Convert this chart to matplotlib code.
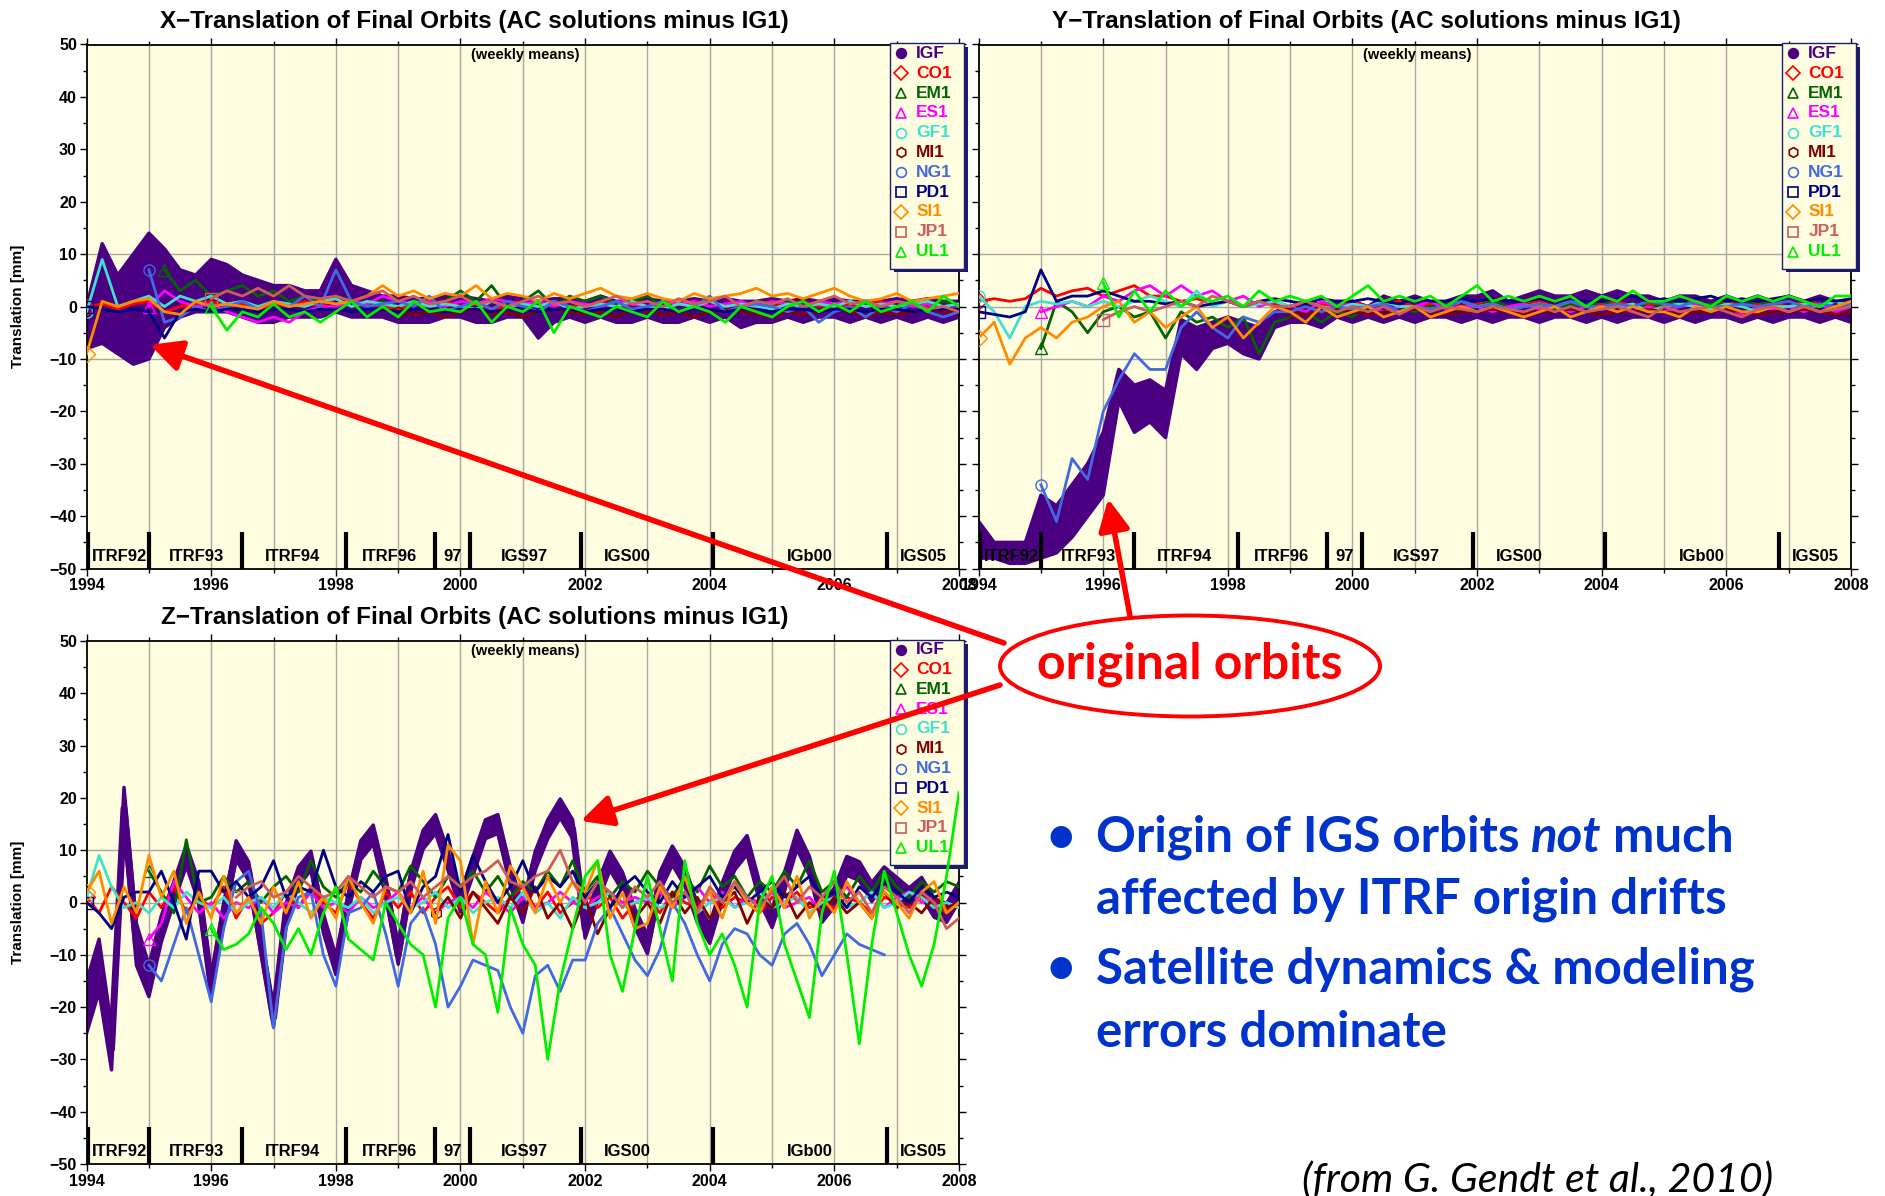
import numpy as np
import matplotlib
matplotlib.use("Agg")
import matplotlib.pyplot as plt
from matplotlib.patches import Ellipse, Rectangle, ConnectionPatch
from matplotlib.ticker import MultipleLocator

nan = np.nan

# epochs: quarterly for the X and Y panels, every 0.2 yr for Z
t_q = 1994.0 + 0.25 * np.arange(57)
t_z = 1994.0 + 0.2 * np.arange(71)

ac_names = ['IGF', 'CO1', 'EM1', 'ES1', 'GF1', 'MI1', 'NG1', 'PD1', 'SI1', 'JP1', 'UL1']
ac_colors = ['#4b0082', '#ff0000', '#006400', '#ff00ff', '#40e0d0', '#800000',
             '#4169e1', '#000080', '#ff8c00', '#cd5c5c', '#00ee00']
ac_markers = ['o', 'D', '^', '^', 'o', 'h', 'o', 's', 'D', 's', '^']

frame_names = ['ITRF92', 'ITRF93', 'ITRF94', 'ITRF96', '97', 'IGS97', 'IGS00', 'IGb00', 'IGS05']
frame_start = [1994.03, 1995.0, 1996.5, 1998.17, 1999.59, 2000.16, 2001.93, 2004.05, 2006.85]
frame_label_x = [1994.52, 1995.76, 1997.3, 1998.86, 1999.88, 2001.02, 2002.68, 2005.6, 2007.43]

# ---------------- X translation ----------------
igf_x_lo = [-8, -7, -9, -11, -10, -4, -2, -1, -1, -1, -2, -3, -3, -2, -2, -2, -1, -2, -2, -2,
            -3, -3, -3, -2, -2, -3, -3, -2, -2, -6, -3, -2, -3, -2, -3, -3, -2, -3, -3, -2,
            -3, -2, -4, -3, -3, -2, -3, -2, -2, -3, -2, -3, -2, -3, -2, -3, -2]
igf_x_hi = [0, 12, 6, 10, 14, 11, 7, 6, 9, 8, 6, 5, 4, 4, 3, 3, 9, 4, 3, 2,
            2, 1.5, 1.5, 2, 2, 1.5, 1, 2, 1.5, 1, 1.5, 1.5, 1, 2, 1, 1, 1.5, 1, 1, 1.5,
            1, 1.5, 1, 1, 1.5, 1, 1.5, 1, 1.5, 1, 1, 1, 1.5, 1, 1.5, 1, 1]
co1_x = [0, 0.5, -0.5, 0.5, 1, -1, 0, 0.5, 1, 0, 0.5, -0.5, 0.5, 0, 1, 0, 1.5, 0, 0.5, 0,
         -0.5, 0.5, 0, 1, 0, 0.5, -0.5, 0, 0.5, 0, 1, 0, 0, 1, 0, 0.5, 0, -0.5, 0.5, 0,
         1, 0, 0.5, 0, 0, 0.5, 1, 0, 0.5, 0, 0.5, 1, 0, 0.5, 0, 1, 0.5]
em1_x = [nan] * 5 + [7, 3, 5, 2, 3, 4, 2, 3, 1, 2, 1, 2, 1, 0.5, 1,
                     0, 1, 0.5, 1, 3, 1, 4, 0, 1, 3, 0, 2, 1, 2, 0.5, 1, 2, 0, 1, 0.5,
                     1, 0, 1, 0, 0.5, 1, 0, 1, 0, 1, 0.5, 0, 1, 0, 0.5, 1, 0.5]
es1_x = [nan] * 4 + [0, 3, 1, 0, 0.5, -1, -2, -3, -2, -3, -1, 0, 0, 1, 0.5, 2,
                     1, 0.5, 1, 0, 1, 0.5, 1.5, 1, 0.5, 1, 0, 1, 0.5, 0, 1, 0.5, 0, 1, 0.5, 1,
                     0, 0.5, 1, 0, 1, 0.5, 0, 1, 0.5, 1, 0, 0.5, 1, 0, 0.5, -1, 0]
gf1_x = [-1, 9, 0, 1, 2, 0, 2, 1, 2, 0.5, 1, 0, 1, 0.5, 0, 1, 1.5, 0, 1, 0.5,
         0, 1, 0, 0.5, 0, -0.5, 1, 0, 0.5, 0, 1, -0.5, 0, 0.5, 0, 1, 0, -0.5, 0.5, 0,
         1, 0, 0.5, 0, -0.5, 0.5, 0, 0.5, 0, 1, 0, 0.5, 0, 0.5, 1, 0, 0.5]
mi1_x = [nan] * 20 + [-1, -1.5, -1, -2, -1, -0.5, -1.5, -1, -2, -1, -0.5, -1, -1.5, -1, -2, -0.5,
                      -1, -1.5, -1, -2, -1, -0.5, -1, -1.5, -2, -1, -1.5, -1, -0.5, -1, -2, -1,
                      -1.5, -1, -0.5, -1, -1]
ng1_x = [nan] * 4 + [7, -3, -2, 0, -1, 0, 1, -0.5, 1, 0, 2, 0, 7, 1, 0, 0.5,
                     1, 0, 2, -1, 0, 1, -0.5, 1, 0, -1, 1, 0, -1, 0, 1, -0.5, 0, 1, -1, 0,
                     2, -1, 0, 0.5, 0, -1, 0, -3, -1, 0, -2, 0, -1, 0.5, -1, -2, -1]
pd1_x = [0, -0.5, -1, -0.5, -1, -6, -1, -0.5, -1, -0.5, -0.5, -1, -0.5, -0.5, -1, -0.5, -0.5, -1, -0.5, -0.5,
         -1, -0.5, -0.5, -1, -0.5, -0.5, -1, -0.5, -0.5, -1, -0.5, -0.5, -1, -0.5, -0.5, -1, -0.5, -0.5, -1, -0.5,
         -0.5, -1, -0.5, -0.5, -1, -0.5, -0.5, -1, -0.5, -0.5, -1, -0.5, -0.5, -1, -0.5, -0.5, -0.5]
si1_x = [-9, 1, 0, 1, 1.5, -1, -1.5, 1, 0, 0.5, 0, -0.5, 1, 0, 0.5, 1, 0.5, 1, 2, 4,
         2, 3, 1.5, 2.5, 2, 4, 1.5, 2.5, 2, 1, 2.5, 1.5, 2.5, 3.5, 2, 1.5, 2.5, 1.5, 1, 2.5,
         1.5, 2, 2.5, 3.5, 2, 2.5, 1.5, 2.5, 3.5, 2, 1, 1.5, 2.5, 1, 1.5, 2, 2.5]
jp1_x = [nan] * 8 + [1.5, 3, 2, 3.5, 2, 4, 2, 1.5, 2, 1, 2, 3,
                     1, 2, 0.5, 1, 2, 0.5, 1, 0, 1, 2, 0.5, 1, 0, 1, 2, 0.5, 1, 0, 1.5, 0.5,
                     1, 2, 0, 1, 0.5, 1.5, 0, 1, 2, 0.5, 1, 0, 1, 0.5, -0.5, 0, -1]
ul1_x = [nan] * 8 + [0, -4.5, -1, -2, 0.5, -2, -1, -3, -1, 1, -2, 0,
                     -2, 1, -1, -0.5, -1, 1, -3, 0, -1, 1, -5, 0, -1, -2, 0, -1, -2, 1, -1, 0,
                     -1, -3, 0, -1, -2, 0, 1, -1, 0.5, -1, 1, -1, 0, 1, -1, 2, 0]

# ---------------- Y translation ----------------
igf_y_lo = [-48, -48, -49, -49, -48, -47, -44, -40, -36, -18, -24, -22, -25, -9, -12, -8, -7, -9, -10, -4,
            -3, -3, -4, -2, -3, -2, -3, -2, -3, -2, -2, -3, -2, -3, -2, -2, -3, -2, -2, -3,
            -2, -3, -2, -2, -3, -2, -3, -2, -2, -3, -2, -3, -2, -2, -3, -2, -3]
igf_y_hi = [-41, -45, -45, -45, -36, -38, -34, -30, -24, -12, -15, -14, -16, -2.5, -4, -3, -2, -3, -4, -1,
            0, 1, 0, 1, 1, 0, 2, 1, 2, 1, 1, 2, 2, 3, 1, 2, 3, 2, 2, 3,
            2, 3, 2, 2, 1, 2, 2, 1, 2, 1, 2, 1, 2, 1, 2, 1, 1]
co1_y = [1, 1.5, 1, 1.5, 3.5, 2, 3, 3.5, 2, 3, 4, 2, 2, 1, 1.5, 0.5, 1, 0, 1, 0.5,
         0, 1, 0.5, 0, 1, 0, 0.5, 1, 0, 0.5, 1, 0, 0.5, 1, 0, 0.5, 1, 0, 0.5, 0,
         0.5, 1, 0, 0.5, 0, 0.5, 1, 0, 1, 0, 0.5, 0.5, 0, 1, 0.5, 0, 0.5]
em1_y = [nan] * 4 + [-8, 1, -1, -5, -1, 0, -2, -1, -6, -1, -3, -2, -4, -2, -9, -3,
                     -2, -1, -3, -1, -2, 0, -1, 0, -1, 0, 0.5, -1, 0, 1, 0, 0.5, 0, -0.5, 0.5, 0,
                     1, 0, 0.5, 0, 0, 1, 0, 0.5, 0.5, 0, 1, 0, 0, 0.5, 0, 1, 0.5]
es1_y = [nan] * 4 + [-1, 0, 1, 0, 2, 1, 3, 4, 2, 4, 2, 3, 1, 2, 0, 1,
                     0, -1, 1, 0, 0.5, 0, -1, 0, 0, 1, -0.5, 0, 0, -1, 0, 0.5, -0.5, 0, -1, 0,
                     0, 0.5, -1, 0, -1, 0, 0.5, -1, 0, -1.5, 0, -0.5, 0, -1, 0.5, -1, 0]
gf1_y = [2, -1, -6, 0, 1, 0.5, 1, 0, 1, 0, 1, 2, 1, 0, 3, 0, 1, 0, 0.5, 1,
         0, 1, 0, -0.5, 0.5, 0, 1, 0, 0, -0.5, 0, 1, 0, 0.5, -0.5, 0, 0.5, 0, 1, 0,
         -0.5, 0, 0.5, -1, 0, 0.5, 0, -0.5, 0.5, 0, -1, 0, 0, 0.5, 0, 1, 0]
mi1_y = [nan] * 20 + [-1, -1.5, -1, -0.5, -1, -1.5, -1, -1, -0.5, -1, -1.5, -1, -1, -0.5, -1, -1.5,
                      -1, -1, -0.5, -1, -1.5, -1, -1, -0.5, -1, -1.5, -1, -1, -0.5, -1, -1.5, -1,
                      -1, -0.5, -1, -1.5, -1]
ng1_y = [nan] * 4 + [-34, -41, -29, -33, -20, -14, -9, -12, -12, -4, -1, -4, -6, -2, -3, -1,
                     -1, 0, -1, 0, -0.5, 0, 0.5, -1, 0, -0.5, 0, 1, 0, 0.5, -0.5, 0, 0.5, 0, 1, 0,
                     0, 0.5, 0, 1, 0.5, 0, 1, 0, 0, 0.5, 0, 0.5, 1, 0, 0.5, 0, 0.5]
pd1_y = [-1, -1.5, -2, -1, 7, 1, 2, 2, 3, 2, 1, 1, 0.5, 1, 0, 0.5, 1, 0, 1, 1.5,
         1, 0.5, 1.5, 1, 1, 1.5, 1, 0.5, 1.5, 1, 1, 1.5, 1, 1.5, 1, 1, 1.5, 1, 1.5, 1,
         1, 1.5, 2, 1, 1.5, 1, 1.5, 2, 1, 1.5, 1, 1.5, 2, 1, 1.5, 1, 1.5]
si1_y = [-6, -3, -11, -6, -4, -6, -3, -2, 0, 1, -3, -1, -4, -2, 0, -4, -2, -6, -3, 0,
         -1, -3, 0, -2, -1, 0, -2, -1, 0, -2, -1, 0, -1, 0, -1, -2, -1, 0, -2, -1,
         0, -1, 0, -1, -1, -2, 0, -1, 0, -1, -1, 0, -1, 0, -1, 0, 1]
jp1_y = [nan] * 8 + [-2.5, -1, 0, -1, 0, 1, 0, 2, 1, 0, 1, 0,
                     0, 1, 0, -1, 0, -1, 0, -1.5, 0, -1, 0, -0.5, -1, 0, -0.5, -1, 0, -1, 0, -1,
                     -0.5, 0, -1, -2, 0, -1, -0.5, 0, -1, -2, -0.5, 0, -1, 0, -1, -0.5, 0]
ul1_y = [nan] * 8 + [4.5, -2, 3, -1, 3, 0, 2, 1, 2, 0, 3, 1,
                     2, 1, 2, 0, 2, 4, 1, 2, 1, 2, 0, 2, 4, 1, 2, 1, 2, 1, 2, 0,
                     2, 1, 3, 1, 1, 2, 1, 0, 2, 1, 2, 1, 2, 1, 0, 2, 2]

# ---------------- Z translation ----------------
igf_z = [-20, -12, -28, 18, -8, -15, -5, 2, 9, 2, -16, -2, 10, 6, -8, -22, -2, 5, 8, -4, -12, 0, 10, 13, 3,
         -10, 4, 12, 15, 8, 0, 7, 14, 15, 5, -2, 8, 14, 18, 14, -5, 2, 8, 4, -3, -8, 4, 9, 5, -2,
         -6, 2, 8, 11, 2, -3, 4, 12, 7, -2, 1, 7, 6, 2, 5, 3, 1, 3, -1, -2, 2]
igf_z_half = [5, 5, 4, 4, 4, 3, 2.5, 2, 2, 2] + [1.8] * 61
co1_z = [1, -2, 3, 0, -3, 2, -1, 3, -2, 1, -1, 3, -3, 1, -4, -2, 2, -1, 3, 0, -2, 4, 0, -3, 2,
         -1, 2, -2, 1, 3, -1, 2, 0, -2, 1, 3, -1, 2, -2, 0, 2, -1, 1, -3, 0, 1, -2, 2, 0, -1,
         2, -1, 1, 0, -2, 1, 0, 2, -1, 0, -1, 1, 0, -2, 1, 0, -1, 1, 0, -2, 0]
em1_z = [nan] * 5 + [6, 2, -2, 12, 0, 1, 5, 2, 4, 0, 3, 5, 2, 8, 3, 1, 4, 2, 6, 3,
                     2, 7, 4, 1, 5, 3, 6, 2, 5, 1, 4, 2, 6, 3, 8, 2, 5, 1, 4, 2, 6, 3, 1, 5, 2,
                     7, 3, 5, 1, 4, 2, 6, 3, 8, 2, 4, 1, 5, 2, 6, 3, 1, 4, 2, 4, 3]
es1_z = [nan] * 5 + [-7, -4, 4, 1, -2, 0, -3, 0, -1, 1, -2, 0, -1, 2, -1, 0, -2, 1, -1, 0,
                     2, -1, 1, -2, 0, 1, -1, 2, 0, -2, 1, -1, 0, 2, 0, -1, 1, 2, 0, 1, 0, 2, -1, 1, 3,
                     0, 2, -1, 1, 0, 2, -1, 0, 1, -2, 1, 3, 0, 2, -1, 1, 2, 0, 1, -1, 0]
gf1_z = [1, 9, 3, -1, 0, -2, 1, -1, 2, 0, -1, 1, -2, 0, 1, -1, 2, 0, -2, 1, 0, -1, 1, -2, 0,
         1, -1, 0, 2, -1, 1, -2, 0, 1, -1, 2, -2, 0, -3, 1, -1, 0, 2, -1, 0, 1, -1, 0, 2, -2,
         0, 1, -1, 0, 2, -1, 0, 1, -2, 0, 1, -1, 0, 2, -1, 0, 2, 1, -1, 0, -1]
mi1_z = [nan] * 28 + [-2, 1, -3, 2, -1, -4, 1, -2, 3, -3, 0, -5, 1, -6, -1, 2, -3, 0, -4, 2, -2, 1,
                      -3, 0, 2, -4, 1, -1, 2, -3, 0, -2, 1, -2, 0, -3, 2, -1, 0, -2, 1, -1, 0]
ng1_z = [nan] * 5 + [-12, -15, -8, -1, -10, -19, -5, 4, 6, -2, -24, -5, 1, 2, -10, -16, -2, -1, 2, -6,
                     -16, -4, -1, -8, -20, -16, -11, -12, -13, -20, -25, -14, -12, -17, -11,
                     -11, -4, -1, -6, -11, -14, -9, 0, -4, -10, -15, -8, -5, -6, -10,
                     -12, -6, -4, -8, -14, -10, -6, -8, -9, -10] + [nan] * 6
pd1_z = [0, -2, -5, 1, 2, 2, 6, 0, -7, 6, 6, 2, 4, 1, 3, 8, 1, 3, 2, 10, 3, 1, 4, 2, 5,
         6, -2, 3, 5, 13, 2, 9, 4, 0, 3, 8, 2, 5, 3, 6, 1, 4, -1, 3, 5, 2, 0, 4, 1, 3,
         5, 1, 3, 0, 2, 4, 1, 3, 5, 1, 2, -1, 3, 1, 4, 2, 0, 3, 1, 2, 1]
si1_z = [2, 6, -4, 3, -2, 9, 1, 6, -4, 2, -3, 5, -2, 1, -4, 3, -2, 4, -3, 1, -3, 5, 0, -4, 3,
         2, -2, 6, -4, 11, 8, -8, 4, -2, 7, 3, -2, 5, 0, 4, 2, 8, -3, 2, -5, -4, 3, -1, 5, -2,
         2, -3, 4, 0, -2, 3, -1, 5, -3, 1, -2, 4, 0, -3, 2, 0, -3, 2, 4, -2, 0]
jp1_z = [nan] * 12 + [1, 3, 4, 1, 2, 5, 3, 1, 2, 5, 3, 1, 3, 2, 4, 1, 3, 5, 3, 5, 6, 8, 4, 3, 5, 6, 10, 4,
                      0, 4, 2, -1, 3, 1, 4, 0, 2, -2, 3, 0, 4, 1, -1, 2, 5, 0, 3, 1, 4, 0, 2, -2, 3,
                      1, -2, 2, 0, -5, -3]
ul1_z = [nan] * 10 + [-5, -9, -8, -6, -1, -4, -9, -5, -10, -2, 3, -7, -9, -11, 0,
                      -4, -8, -10, -20, -3, 1, -8, -10, -21, -1, -8, -12, -30, -15, -5, 5, 8, -10, -17, -5,
                      5, -5, -15, 8, -4, -10, -6, -12, -20, 0, 5, -8, -15, -22, -2, 6, -10, -27, -8, 6,
                      -2, -10, -16, -8, 5, 21]

W, H = 1885, 1196
bg = '#fffddf'
grid_c = '#a8a8a0'

plt.rcParams['font.family'] = ['Liberation Sans', 'DejaVu Sans']
plt.rcParams['font.weight'] = 'bold'


def draw_legend(ax):
    x0, x1, y0, y1 = 0.921, 1.006, 0.572, 1.002
    shadow = Rectangle((x0 + 0.004, y0 - 0.007), x1 - x0, y1 - y0, transform=ax.transAxes,
                       facecolor='#1c1c6c', edgecolor='none', clip_on=False, zorder=7)
    box = Rectangle((x0, y0), x1 - x0, y1 - y0, transform=ax.transAxes, facecolor=bg,
                    edgecolor='#1c1c6c', lw=1, clip_on=False, zorder=7.5)
    ax.add_patch(shadow)
    ax.add_patch(box)
    for i, name in enumerate(ac_names):
        yy = 0.983 - i * 0.0378
        filled = ac_colors[i] if name == 'IGF' else 'none'
        ax.plot([0.934], [yy], marker=ac_markers[i], mfc=filled, mec=ac_colors[i], ms=7, mew=1.2,
                transform=ax.transAxes, clip_on=False, zorder=8, ls='none')
        ax.text(0.951, yy, name, color=ac_colors[i], fontsize=12.5, fontweight='bold',
                va='center', ha='left', transform=ax.transAxes, zorder=8)


def draw_panel(ax, t, igf_lo, igf_hi, others, title, left_labels):
    ax.set_facecolor(bg)
    ax.set_xlim(1994, 2008)
    ax.set_ylim(-50, 50)
    for yr in range(1995, 2008):
        ax.axvline(yr, color=grid_c, lw=1, zorder=1)
    for v in (-10, 0, 10):
        ax.axhline(v, color=grid_c, lw=1, zorder=1)

    lo = np.array(igf_lo, float)
    hi = np.array(igf_hi, float)
    ax.fill_between(t, lo, hi, color=ac_colors[0], lw=0, zorder=2)
    ax.plot(t, lo, color=ac_colors[0], lw=2.5, zorder=2)
    ax.plot(t, hi, color=ac_colors[0], lw=2.5, zorder=2)
    ax.plot(t, (lo + hi) / 2, color=ac_colors[0], lw=5, zorder=2)

    for k, vals in enumerate(others, start=1):
        v = np.array(vals, float)
        z = 9 if ac_names[k] == 'UL1' else 3
        ax.plot(t, v, color=ac_colors[k], lw=2, zorder=z)
        i0 = np.flatnonzero(~np.isnan(v))[0]
        ax.plot(t[i0], v[i0], marker=ac_markers[k], mfc='none', mec=ac_colors[k],
                ms=8, mew=1, zorder=z, ls='none')

    ax.vlines(frame_start, -50, -43, colors='k', lw=3, zorder=6)
    for lab, xl in zip(frame_names, frame_label_x):
        ax.text(xl, -47.6, lab, ha='center', va='center', fontsize=12, fontweight='bold', zorder=6)

    ax.xaxis.set_major_locator(MultipleLocator(2))
    ax.xaxis.set_minor_locator(MultipleLocator(1))
    ax.yaxis.set_major_locator(MultipleLocator(10))
    ax.yaxis.set_minor_locator(MultipleLocator(5))
    ax.tick_params(which='both', direction='out', top=True, right=True, width=1,
                   labelsize=11.5, labelleft=left_labels, pad=2)
    ax.tick_params(which='major', length=5)
    ax.tick_params(which='minor', length=3)
    for lab in ax.get_xticklabels() + ax.get_yticklabels():
        lab.set_fontweight('bold')
    for s in ax.spines.values():
        s.set_linewidth(1.3)

    ax.text(0.445, 1.044, title, transform=ax.transAxes, ha='center', va='center',
            fontsize=17.5, fontweight='bold')
    ax.text(0.5025, 0.98, '(weekly means)', transform=ax.transAxes, ha='center', va='center',
            fontsize=10.5, fontweight='bold', zorder=6)
    if left_labels:
        ax.text(-0.079, 0.5, 'Translation [mm]', transform=ax.transAxes, rotation=90,
                ha='center', va='center', fontsize=11, fontweight='bold')
    draw_legend(ax)


fig = plt.figure(figsize=(W / 100, H / 100), dpi=100)
fig.patch.set_facecolor('white')
ax1 = fig.add_axes([86.6 / W, 1 - 568.6 / H, 872.4 / W, 524.1 / H])
ax2 = fig.add_axes([978.6 / W, 1 - 568.6 / H, 872.4 / W, 524.1 / H])
ax3 = fig.add_axes([86.6 / W, 1 - 1164 / H, 872.4 / W, 523 / H])

draw_panel(ax1, t_q, igf_x_lo, igf_x_hi,
           [co1_x, em1_x, es1_x, gf1_x, mi1_x, ng1_x, pd1_x, si1_x, jp1_x, ul1_x],
           'X\u2212Translation of Final Orbits (AC solutions minus IG1)', True)
draw_panel(ax2, t_q, igf_y_lo, igf_y_hi,
           [co1_y, em1_y, es1_y, gf1_y, mi1_y, ng1_y, pd1_y, si1_y, jp1_y, ul1_y],
           'Y\u2212Translation of Final Orbits (AC solutions minus IG1)', False)
z_c = np.array(igf_z, float)
z_h = np.array(igf_z_half, float)
draw_panel(ax3, t_z, z_c - z_h, z_c + z_h,
           [co1_z, em1_z, es1_z, gf1_z, mi1_z, ng1_z, pd1_z, si1_z, jp1_z, ul1_z],
           'Z\u2212Translation of Final Orbits (AC solutions minus IG1)', True)


def fpos(x, y):
    return x / W, 1 - y / H


# "original orbits" callout
arrow_style = '-|>,head_length=0.7,head_width=0.35'
for tail, tip, ax in [((1004, 643), (1995.02, -7.3), ax1),
                      ((1130, 616), (1996.08, -36.7), ax2),
                      ((1000, 685), (2001.93, 15.6), ax3)]:
    con = ConnectionPatch(xyA=fpos(*tail), coordsA=fig.transFigure, xyB=tip, coordsB=ax.transData,
                          arrowstyle=arrow_style, color='#ff0000', lw=4, mutation_scale=27,
                          shrinkA=0, shrinkB=0, zorder=10)
    fig.add_artist(con)

ell = Ellipse(fpos(1190, 666), 380 / W, 101 / H, transform=fig.transFigure,
              facecolor='white', edgecolor='#ff0000', lw=2.8, zorder=11)
fig.add_artist(ell)
fig.text(*fpos(1190, 664), 'original orbits', ha='center', va='center', color='#ff0000',
         family='Lato', fontweight='bold', fontsize=36, zorder=12)

# bullet text
blue = '#0033cc'
fs = 35.5
big = dict(family='Lato', fontweight='bold', fontsize=fs, color=blue, va='baseline', ha='left')
fig.text(*fpos(1046, 852), '\u2022', **big)
fig.text(*fpos(1046, 983), '\u2022', **big)
renderer = fig.canvas.get_renderer()
space = 0.23 * fs * 100 / 72
t1 = fig.text(*fpos(1096, 852), 'Origin of IGS orbits', **big)
bb = t1.get_window_extent(renderer=renderer)
t2 = fig.text((bb.x1 + space) / W, 1 - 852 / H, 'not', style='italic', **big)
bb = t2.get_window_extent(renderer=renderer)
fig.text((bb.x1 + space) / W, 1 - 852 / H, 'much', **big)
fig.text(*fpos(1096, 914), 'affected by ITRF origin drifts', **big)
fig.text(*fpos(1096, 983), 'Satellite dynamics & modeling', **big)
fig.text(*fpos(1096, 1047), 'errors dominate', **big)

fig.text(*fpos(1302, 1192), '(from G. Gendt et al., 2010)', family='Lato', style='italic',
         fontweight='normal', fontsize=29.5, color='black', va='baseline', ha='left')

fig.savefig('out.png', dpi=100)
